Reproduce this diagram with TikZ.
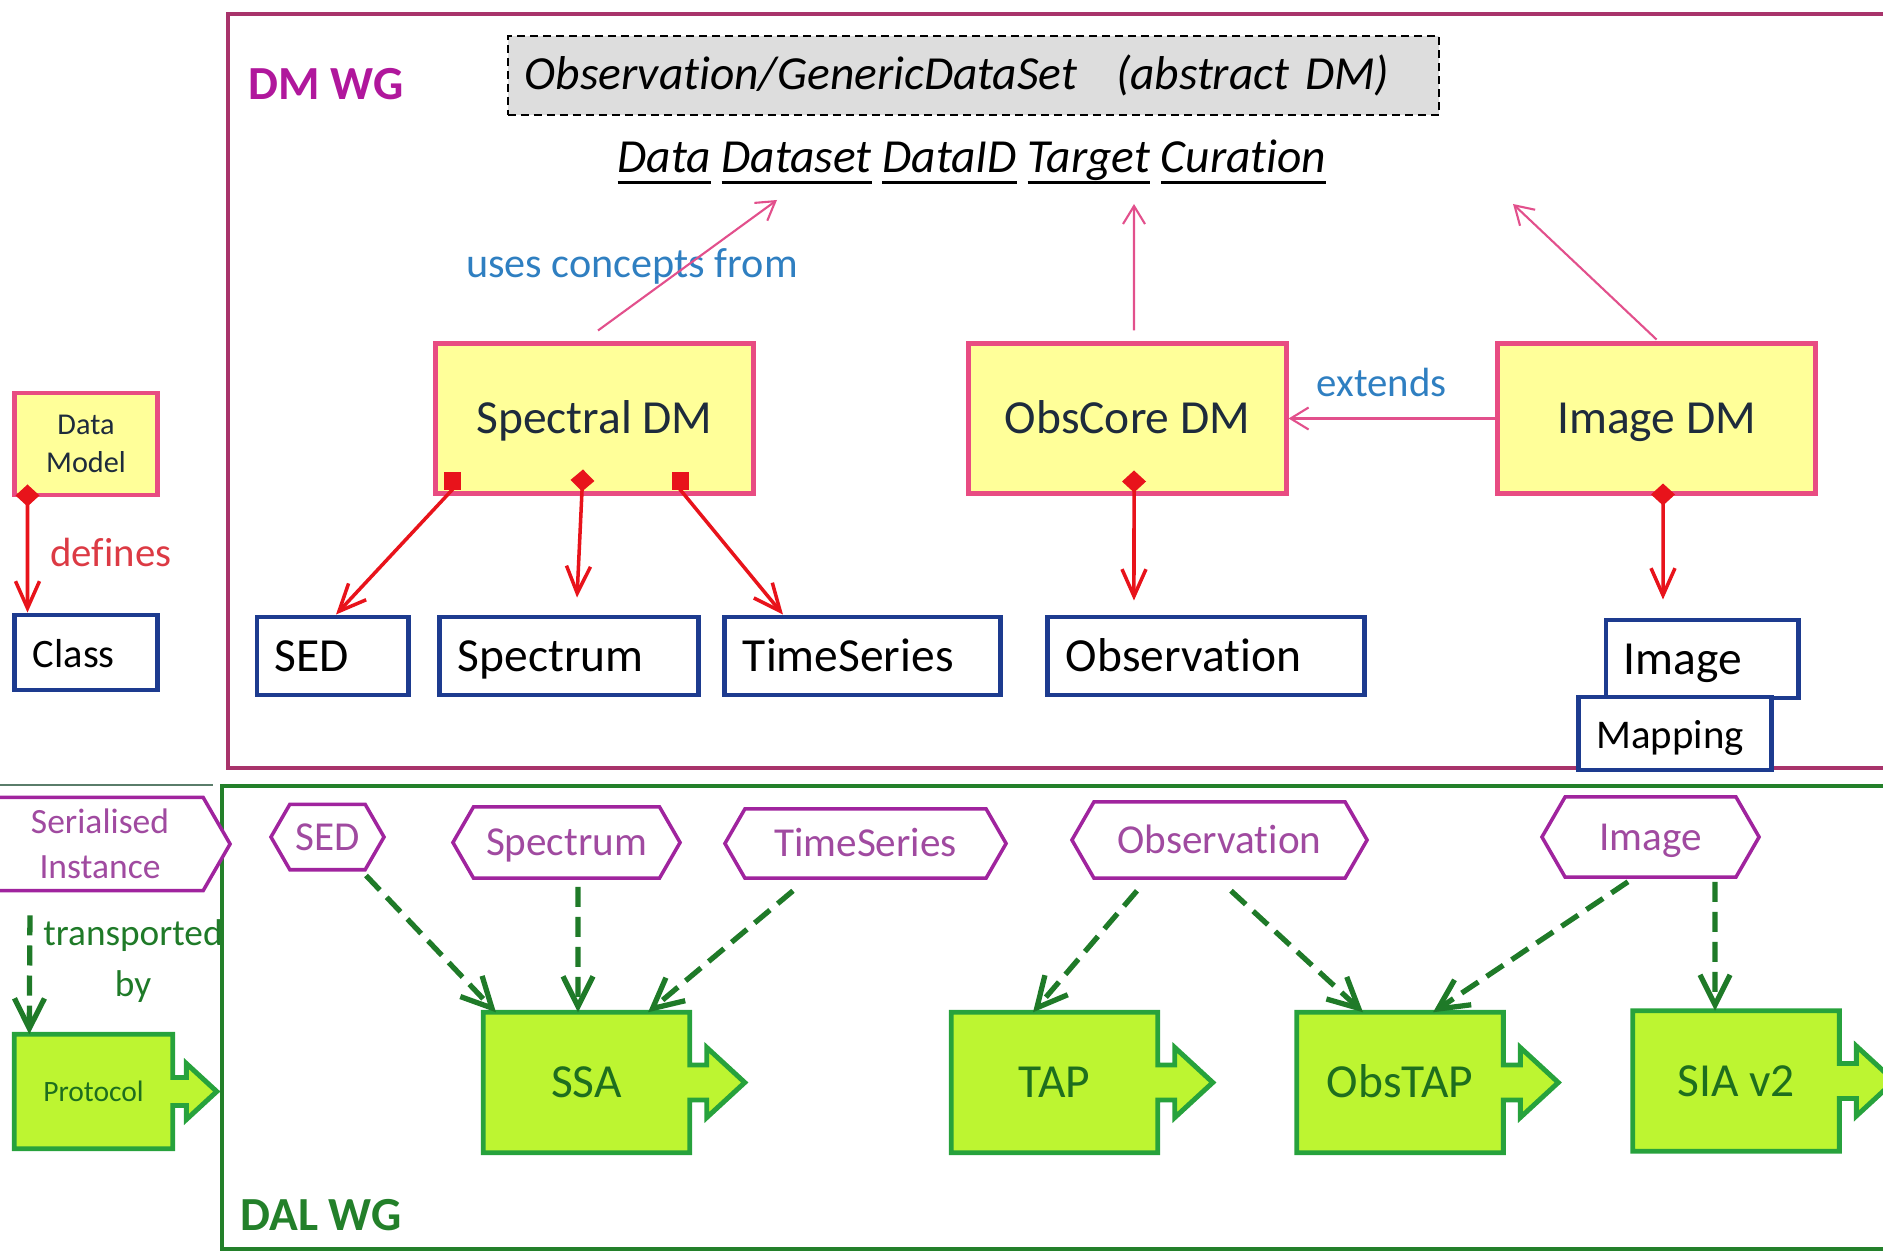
\documentclass[tikz,border=0pt]{standalone}
\usepackage{fontspec}
\setmainfont{Carlito}[Ligatures=NoCommon]
\usetikzlibrary{arrows.meta}
\usetikzlibrary{shapes.symbols}
\usetikzlibrary{backgrounds}
\usetikzlibrary{calc}

\definecolor{dmframe}{HTML}{A8336B}
\definecolor{dmtitle}{HTML}{B0179C}
\definecolor{dmpink}{HTML}{E84C82}
\definecolor{dmyellow}{HTML}{FFFF99}
\definecolor{pinkline}{HTML}{E2508C}
\definecolor{usesblue}{HTML}{2F7FC1}
\definecolor{dmred}{HTML}{E8131B}
\definecolor{deftext}{HTML}{DC3A44}
\definecolor{navyline}{HTML}{1D3B8F}
\definecolor{absgrey}{HTML}{DDDDDD}
\definecolor{hexpurple}{HTML}{A0249E}
\definecolor{hextext}{HTML}{A04AA0}
\definecolor{dalgreen}{HTML}{23802A}
\definecolor{dashgreen}{HTML}{1F7A28}
\definecolor{limefill}{HTML}{BDF531}
\definecolor{protborder}{HTML}{27A23C}
\definecolor{prottext}{HTML}{1E6E1E}
\definecolor{legline}{HTML}{5A7D6A}
\definecolor{darktext}{HTML}{1E2B3C}

\newcommand\uword[1]{\setbox0\hbox{#1}\rlap{\rule[-0.11cm]{\wd0}{0.03cm}}\box0\relax}

\begin{document}
\begin{tikzpicture}[x=0.01cm, y=-0.01cm,
  dmbox/.style={draw=dmpink, fill=dmyellow, line width=1.4pt, minimum width=3.17cm, minimum height=1.49cm, text height=0.39cm, text depth=0.09cm, text=darktext, font=\fontsize{13.5}{16}\selectfont},
  classbox/.style={draw=navyline, fill=white, line width=1.4pt, minimum height=0.78cm, inner xsep=0.18cm, text height=0.39cm, text depth=0.09cm, align=left, font=\fontsize{13.5}{16}\selectfont},
  serial/.style={signal, signal to=east and west, signal pointer angle=120, draw=hexpurple, fill=white, line width=1pt, inner xsep=0pt, text height=0.34cm, text depth=0.08cm, text=hextext, font=\fontsize{11.7}{14}\selectfont},
  proto/.style={minimum width=2.05cm, minimum height=1.39cm, text height=0.39cm, text depth=0.09cm, text=prottext, font=\fontsize{13.5}{16}\selectfont},
  protoshape/.style={draw=protborder, fill=limefill, line width=1.4pt, line join=miter},
  owns/.style={draw=dmred, line width=1pt},
  diamondown/.style={owns, {Diamond[length=2.2mm,width=2.4mm]}-{Straight Barb[length=2.7mm,width=2.4mm]}},
  squareown/.style={owns, {Square[length=1.7mm,width=1.7mm]}-{Straight Barb[length=2.7mm,width=2.4mm]}},
  uses/.style={draw=pinkline, line width=0.6pt, -{Straight Barb[length=1.8mm,width=2.2mm]}},
  carries/.style={draw=dashgreen, line width=1.5pt, dash pattern=on 2mm off 1mm, -{Straight Barb[length=3mm,width=3mm]}}]
\useasboundingbox (0,0) rectangle (1883,1252);
\clip (0,0) rectangle (1883,1252);

% DM WG
\draw[draw=dmframe, line width=1.3pt] (228,14) rectangle (1890,768);
\draw (326,84) node (DMWG) [text=dmtitle, font=\bfseries\fontsize{13.5}{16}\selectfont] {DM WG};
\draw (973.5,75.5) node (Abs) [draw, fill=absgrey, line width=0.6pt, dash pattern=on 0.8mm off 0.5mm, minimum height=0.79cm, text width=8.97cm, inner xsep=0.17cm, align=left, font=\itshape\fontsize{13.5}{16}\selectfont] {Observation/GenericDataSet\hspace{0.39cm}(abstract DM)};
\draw (972,162) node (Concepts) [font=\itshape\fontsize{13.5}{16}\selectfont] {\uword{Data} \uword{Dataset} \uword{DataID} \uword{Target} \uword{Curation}};
\coordinate (TipSpec) at (777,200);
\coordinate (TipObs) at (1134,204);
\coordinate (TipImg) at (1513,204);

\draw (594.5,418.5) node (Spec) [dmbox] {Spectral DM};
\draw (1127.5,418.5) node (ObsCore) [dmbox] {ObsCore DM};
\draw (1656.5,418.5) node (ImgDM) [dmbox] {Image DM};
\draw (86,444) node (LegDM) [dmbox, minimum width=1.42cm, minimum height=1.02cm, text height=, text depth=, align=center, font=\fontsize{8.6}{10.8}\selectfont] {Data\\Model};

\draw (86,652.5) node (Cls) [classbox, text width=1.06cm, minimum height=0.75cm, font=\fontsize{11.5}{14}\selectfont] {Class};
\draw (332.5,656) node (SED) [classbox, text width=1.15cm] {SED};
\draw (569,656) node (Spectrum) [classbox, text width=2.22cm] {Spectrum};
\draw (862.5,656) node (TimeSeries) [classbox, text width=2.39cm] {TimeSeries};
\draw (1206,656) node (Observation) [classbox, text width=2.80cm] {Observation};
\draw (1702,659) node (Image) [classbox, text width=1.56cm] {Image};
\draw (1675,733.5) node (Mapping) [classbox, text width=1.57cm, minimum height=0.73cm, font=\fontsize{11.6}{14}\selectfont] {Mapping};

\draw (632,266) node (UsesLbl) [text=usesblue, font=\fontsize{12}{14}\selectfont] {uses concepts from};
\draw[uses] ([xshift=0.035cm,yshift=0.11cm]Spec.north) -- (TipSpec);
\draw[uses] ([xshift=0.065cm,yshift=0.11cm]ObsCore.north) -- (TipObs);
\draw[uses] ([yshift=0.02cm]ImgDM.north) -- (TipImg);
\draw[uses] (ImgDM.west) -- (ObsCore.east) node[pos=0.55, yshift=0.36cm, text=usesblue, font=\fontsize{11.6}{14}\selectfont] {extends};

\draw[diamondown] ([xshift=0.15cm,yshift=0.13cm]LegDM.south west) -- ([xshift=0.15cm]Cls.north west);
\draw (111,552) node (DefLbl) [text=deftext, font=\fontsize{11.6}{14}\selectfont] {defines};
\draw[squareown] ([xshift=0.19cm,yshift=0.23cm]Spec.south west) -- ++(0,17) -- ([xshift=0.035cm]SED.north);
\draw[diamondown] ([xshift=-0.115cm,yshift=0.26cm]Spec.south) -- ([xshift=0.08cm,yshift=0.17cm]Spectrum.north);
\draw[squareown] ([xshift=0.855cm,yshift=0.23cm]Spec.south) -- ++(0,17) -- ([xshift=-0.795cm]TimeSeries.north);
\draw[diamondown] ([xshift=0.065cm,yshift=0.25cm]ObsCore.south) -- ([xshift=-0.72cm,yshift=0.14cm]Observation.north);
\draw[diamondown] ([xshift=0.065cm,yshift=0.12cm]ImgDM.south) -- ([xshift=-0.39cm,yshift=0.18cm]Image.north);

% DAL WG
\draw[draw=legline, line width=0.7pt] (0,785) -- (213,785);
\draw (133,961) node (TranspLbl) [text=dashgreen, align=center, font=\fontsize{10.6}{14.5}\selectfont] {transported\\by};
\draw[draw=dalgreen, line width=1.3pt] (222,786) rectangle (1890,1249);
\draw (321,1215) node (DALWG) [text=dalgreen, font=\bfseries\fontsize{13.5}{16}\selectfont] {DAL WG};

\draw (100,844) node (LegHex) [serial, minimum width=2.6cm, minimum height=0.92cm, text height=, text depth=, align=center, font=\fontsize{10.1}{12.8}\selectfont] {Serialised\\Instance};
\draw (327.5,837) node (SEDHex) [serial, minimum width=1.13cm, minimum height=0.64cm] {SED};
\draw (566.5,842.5) node (SpecHex) [serial, minimum width=2.27cm, minimum height=0.71cm] {Spectrum};
\draw (865.5,843.5) node (TSHex) [serial, minimum width=2.81cm, minimum height=0.69cm] {TimeSeries};
\draw (1219.5,840) node (ObsHex) [serial, minimum width=2.95cm, minimum height=0.76cm] {Observation};
\draw (1650.5,837) node (ImgHex) [serial, minimum width=2.17cm, minimum height=0.80cm] {Image};

\draw (93.5,1091.5) node (Prot) [proto, minimum width=1.57cm, minimum height=1.13cm, text height=, text depth=, font=\fontsize{8.4}{10}\selectfont] {Protocol};
\draw (586.5,1082.5) node (SSA) [proto] {SSA};
\draw (1054.5,1082.5) node (TAP) [proto] {TAP};
\draw (1400,1082.5) node (ObsTAP) [proto] {ObsTAP};
\draw (1736,1081) node (SIA) [proto] {SIA v2};

\begin{scope}[on background layer]
\foreach \p/\s in {Prot/0.8, SSA/1, TAP/1, ObsTAP/1, SIA/1}
  \draw[protoshape] (\p.north west) -- (\p.north east) -- ($(\p.east)+(0,-17.5*\s)$) -- ++(17*\s,0) -- ++(0,-17.5*\s) -- ++(38*\s,35*\s) -- ++(-38*\s,35*\s) -- ++(0,-17.5*\s) -- ++(-17*\s,0) -- (\p.south east) -- (\p.south west) -- cycle;
\end{scope}

\draw[carries] ([xshift=-0.7cm,yshift=-0.23cm]LegHex.south) -- ([xshift=0.15cm]Prot.north west);
\draw[carries] ([xshift=0.385cm,yshift=-0.04cm]SEDHex.south) -- ([xshift=-0.905cm]SSA.north);
\draw[carries] ([xshift=0.115cm,yshift=-0.07cm]SpecHex.south) -- ([xshift=-0.085cm]SSA.north);
\draw[carries] ([xshift=-0.725cm,yshift=-0.11cm]TSHex.south) -- ([xshift=0.615cm]SSA.north);
\draw[carries] ([xshift=-0.825cm,yshift=-0.11cm]ObsHex.south) -- ([xshift=-0.215cm]TAP.north);
\draw[carries] ([xshift=0.115cm,yshift=-0.11cm]ObsHex.south) -- ([xshift=-0.37cm]ObsTAP.north);
\draw[carries] ([xshift=-0.225cm,yshift=-0.03cm]ImgHex.south) -- ([xshift=0.33cm]ObsTAP.north);
\draw[carries] ([xshift=0.645cm,yshift=-0.03cm]ImgHex.south) -- ([xshift=-0.21cm]SIA.north);

\end{tikzpicture}
\end{document}
